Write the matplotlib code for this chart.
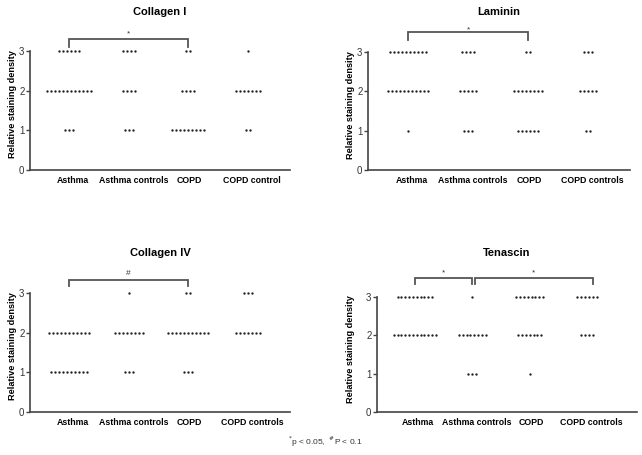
import matplotlib
matplotlib.use("Agg")
import matplotlib.pyplot as plt
import numpy as np

plt.rcParams['font.family'] = ['Liberation Sans', 'DejaVu Sans']

# Data : nombre de sujets par score (3, 2, 1) et par groupe
scores = [3, 2, 1]
groups_a = ["Asthma", "Asthma controls", "COPD", "COPD control"]
groups_b = ["Asthma", "Asthma controls", "COPD", "COPD controls"]

collagen_i_counts = [[6, 4, 2, 1], [12, 4, 4, 7], [3, 3, 9, 2]]
laminin_counts = [[10, 4, 2, 3], [11, 5, 8, 5], [1, 3, 6, 2]]
collagen_iv_counts = [[0, 1, 2, 3], [11, 8, 11, 7], [10, 3, 3, 0]]
tenascin_counts = [[10, 1, 8, 6], [12, 8, 7, 4], [0, 3, 1, 0]]

# (titre, groupes, comptes, crochets[(x1, x2, symbole)])
panels = [
    ("Collagen I", groups_a, collagen_i_counts, [(1, 3, "*")]),
    ("Laminin", groups_b, laminin_counts, [(1, 3, "*")]),
    ("Collagen IV", groups_b, collagen_iv_counts, [(1, 3, "#")]),
    ("Tenascin", groups_b, tenascin_counts, [(1, 2, "*"), (2.04, 4.1, "*")]),
]

W, H = 642, 455
fig = plt.figure(figsize=(W / 100, H / 100), dpi=100)

# position des axes en pixels : gauche, droite, y(0), y(3), xlim,
# hauteurs du crochet, y du titre, décalage du label y
layout = [
    (30, 290, 170, 51, (0.35, 4.70), (3.30, 3.10, 3.43), 12, 13),
    (368, 630, 170, 52, (0.33, 4.70), (3.50, 3.30, 3.56), 12, 13),
    (30, 290, 412, 293, (0.35, 4.70), (3.33, 3.18, 3.50), 253, 13),
    (377, 637, 412, 297, (0.34, 4.87), (3.50, 3.34, 3.63), 253, 22),
]

AX_COL = "#444444"
DOT_COL = "#222222"
step = 0.067

for (title, groups, counts, brackets), (x0, x1, y0, y3, xl, bh, ty, lab) in zip(panels, layout):
    ax = fig.add_axes([x0 / W, 1 - y0 / H, (x1 - x0) / W, (y0 - y3) / H])
    ax.set_xlim(*xl)
    ax.set_ylim(0, 3)

    for s, row in zip(scores, counts):
        for g, n in enumerate(row):
            if n == 0:
                continue
            xs = g + 1 + (np.arange(n) - (n - 1) / 2) * step
            ax.plot(xs, [s] * n, ls="none", marker="o", ms=1.7,
                    color=DOT_COL, mec="none", clip_on=False)

    top, leg, txt = bh
    for a, b, sym in brackets:
        ax.plot([a, a, b, b], [leg, top, top, leg], color="#555555",
                lw=1.3, clip_on=False, solid_joinstyle="miter")
        ax.text((a + b) / 2, txt, sym, ha="center", va="center",
                fontsize=6, color="#333333")

    for sp in ["top", "right"]:
        ax.spines[sp].set_visible(False)
    for sp in ["left", "bottom"]:
        ax.spines[sp].set_color(AX_COL)
        ax.spines[sp].set_linewidth(1.2)

    ax.set_yticks([0, 1, 2, 3])
    ax.tick_params(axis="y", length=3, width=1, color=AX_COL,
                   labelsize=7, labelcolor="#333333", pad=1)
    ax.set_xticks([1.06, 2.08, 3.02, 4.07])
    ax.set_xticklabels(groups, fontsize=6.3, fontweight="bold")
    ax.tick_params(axis="x", length=0, pad=4)

    ax.set_ylabel("Relative staining density", fontsize=6.6, fontweight="bold")
    ax.yaxis.set_label_coords(-lab / (x1 - x0), 0.55)

    ax.text(0.5, (y0 - ty) / (y0 - y3), title, transform=ax.transAxes,
            ha="center", va="center", fontsize=8, fontweight="bold")

fig.text(325 / W, 1 - 442 / H, "$^{*}$p < 0.05,  $^{\\#}$P < 0.1",
         ha="center", va="center", fontsize=6, color="#333333")

fig.savefig("out.png", dpi=100)
